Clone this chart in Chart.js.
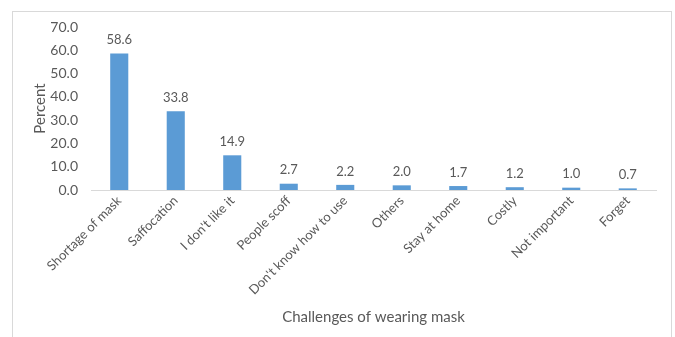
<!DOCTYPE html>
<html>
<head>
<meta charset="utf-8">
<script src="https://cdn.jsdelivr.net/npm/chart.js@4/dist/chart.umd.min.js"></script>
<style>
  html, body { margin: 0; padding: 0; background: #fff; }
  #wrap { position: relative; width: 675px; height: 337px; }
  #frame { position: absolute; left: 12px; top: 11px; width: 658px; height: 340px;
           border: 1px solid #d9d9d9; pointer-events: none; }
</style>
</head>
<body>
<div id="wrap">
  <canvas id="chart" width="675" height="337"></canvas>
  <div id="frame"></div>
</div>
<script>
var categories = ["Shortage of mask", "Saffocation", "I don't like it", "People scoff",
  "Don't know how to use", "Others", "Stay at home", "Costly", "Not important", "Forget"];
var percents = [58.6, 33.8, 14.9, 2.7, 2.2, 2.0, 1.7, 1.2, 1.0, 0.7];
var textColor = "#595959";
var fontFamily = "Lato, 'Open Sans', sans-serif";

// draw the value over each bar
var barValues = {
  id: "barValues",
  afterDatasetsDraw: function(chart) {
    var ctx = chart.ctx;
    var meta = chart.getDatasetMeta(0);
    ctx.save();
    ctx.font = "13px " + fontFamily;
    ctx.fillStyle = textColor;
    ctx.textAlign = "center";
    ctx.textBaseline = "bottom";
    meta.data.forEach(function(bar, i) {
      ctx.fillText(percents[i].toFixed(1), bar.x, bar.y - 7);
    });
    ctx.restore();
  }
};

new Chart("chart", {
  type: "bar",
  data: {
    labels: categories,
    datasets: [{
      label: "Percent",
      data: percents,
      backgroundColor: "#5b9bd5",
      borderWidth: 0,
      barPercentage: 0.32,
      categoryPercentage: 1
    }]
  },
  options: {
    responsive: false,
    animation: false,
    layout: { padding: { top: 27, right: 19, left: 29, bottom: 8 } },
    plugins: { legend: { display: false }, tooltip: { enabled: false } },
    scales: {
      y: {
        min: 0, max: 70,
        ticks: {
          stepSize: 10, padding: 13, color: textColor,
          font: { family: fontFamily, size: 14 },
          callback: function(v) { return v.toFixed(1); }
        },
        grid: { display: false, drawTicks: false },
        border: { display: false },
        title: { display: true, text: "Percent", color: textColor,
                 font: { family: fontFamily, size: 15 }, padding: { top: 2, bottom: 0 } },
        afterFit: function(axis) { axis.width = 62; }
      },
      x: {
        ticks: {
          autoSkip: false, minRotation: 45, maxRotation: 45, padding: 3, color: textColor,
          font: { family: fontFamily, size: 13 }
        },
        grid: { display: false, drawTicks: false },
        border: { display: true, color: "#d9d9d9", width: 1 },
        title: { display: true, text: "Challenges of wearing mask", color: textColor,
                 font: { family: fontFamily, size: 15 }, padding: { top: 0, bottom: 3 } },
        afterFit: function(axis) { axis.height = 139; }
      }
    }
  },
  plugins: [barValues]
});
</script>
</body>
</html>
